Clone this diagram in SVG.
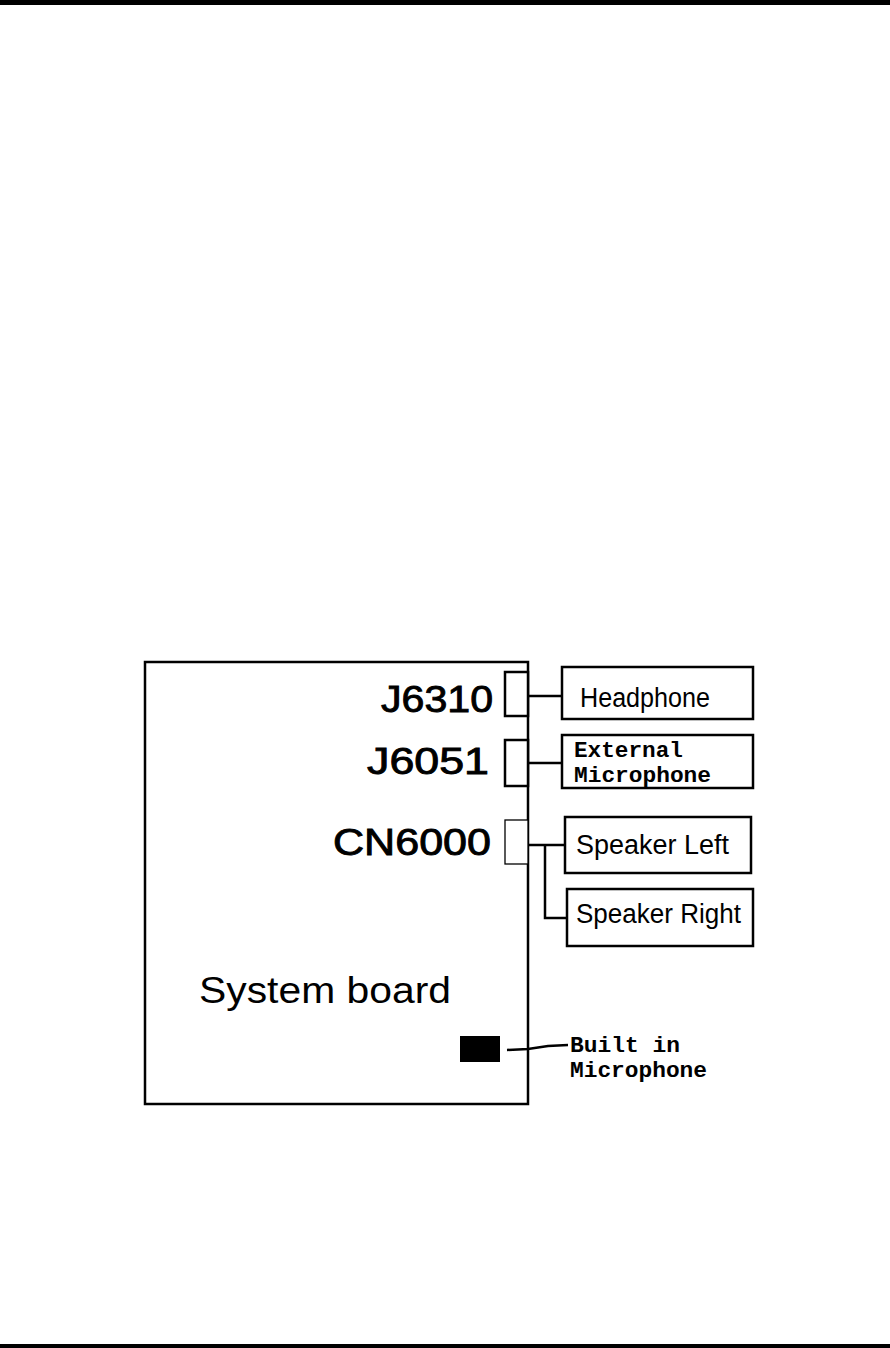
<svg xmlns="http://www.w3.org/2000/svg" width="890" height="1348" viewBox="0 0 890 1348">
<style>
.box{fill:#fff;stroke:#000;stroke-width:2.5}
.thin{fill:#fff;stroke:#000;stroke-width:1.3}
.ln{fill:none;stroke:#000;stroke-width:2.5}
.big{font-family:"Liberation Sans",Arial,sans-serif;font-size:37px;fill:#000;stroke:#000;stroke-width:0.9}
.sb{font-family:"Liberation Sans",Arial,sans-serif;font-size:37px;fill:#000}
.mid{font-family:"Liberation Sans",Arial,sans-serif;font-size:27px;fill:#000}
.mono{font-family:"Liberation Mono","DejaVu Sans Mono",monospace;font-size:22px;font-weight:bold;fill:#000}
</style>
<rect x="0" y="0" width="890" height="5" fill="#000"/>
<rect x="0" y="1344" width="890" height="4" fill="#000"/>
<g id="system-board">
<rect class="box" x="145" y="662" width="383" height="442"/>
<text class="sb" x="199" y="1003" textLength="252" lengthAdjust="spacingAndGlyphs">System board</text>
</g>
<g id="j6310">
<rect class="box" x="505" y="672" width="23" height="44"/>
<text class="big" x="381" y="712" textLength="112" lengthAdjust="spacingAndGlyphs">J6310</text>
</g>
<g id="j6051">
<rect class="box" x="505" y="740" width="23" height="46"/>
<text class="big" x="367" y="774" textLength="122" lengthAdjust="spacingAndGlyphs">J6051</text>
</g>
<g id="cn6000">
<rect class="thin" x="505" y="820" width="23" height="44"/>
<text class="big" x="333" y="855" textLength="158" lengthAdjust="spacingAndGlyphs">CN6000</text>
</g>
<g id="builtin-mic">
<rect x="460" y="1036" width="40" height="26" fill="#000"/>
<text class="mono" x="570" y="1052" textLength="110" lengthAdjust="spacingAndGlyphs">Built in</text>
<text class="mono" x="570" y="1077" textLength="137" lengthAdjust="spacingAndGlyphs">Microphone</text>
</g>
<g id="headphone">
<rect class="box" x="562" y="667" width="191" height="52"/>
<text class="mid" x="580" y="707" font-size="32" textLength="130" lengthAdjust="spacingAndGlyphs">Headphone</text>
</g>
<g id="external-microphone">
<rect class="box" x="562" y="735" width="191" height="53"/>
<text class="mono" x="574" y="757" textLength="109" lengthAdjust="spacingAndGlyphs">External</text>
<text class="mono" x="574" y="782" textLength="137" lengthAdjust="spacingAndGlyphs">Microphone</text>
</g>
<g id="speaker-left">
<rect class="box" x="565" y="817" width="186" height="56"/>
<text class="mid" x="576" y="854" textLength="153" lengthAdjust="spacingAndGlyphs">Speaker Left</text>
</g>
<g id="speaker-right">
<rect class="box" x="567" y="889" width="186" height="57"/>
<text class="mid" x="576" y="923" textLength="165" lengthAdjust="spacingAndGlyphs">Speaker Right</text>
</g>
<g id="connectors">
<line class="ln" x1="528" y1="696" x2="562" y2="696"/>
<line class="ln" x1="528" y1="763" x2="562" y2="763"/>
<line class="ln" x1="528" y1="845" x2="565" y2="845"/>
<polyline class="ln" points="545,845 545,918 567,918"/>
<polyline class="ln" points="507,1050 528,1049 548,1046 568,1045"/>
</g>
</svg>
